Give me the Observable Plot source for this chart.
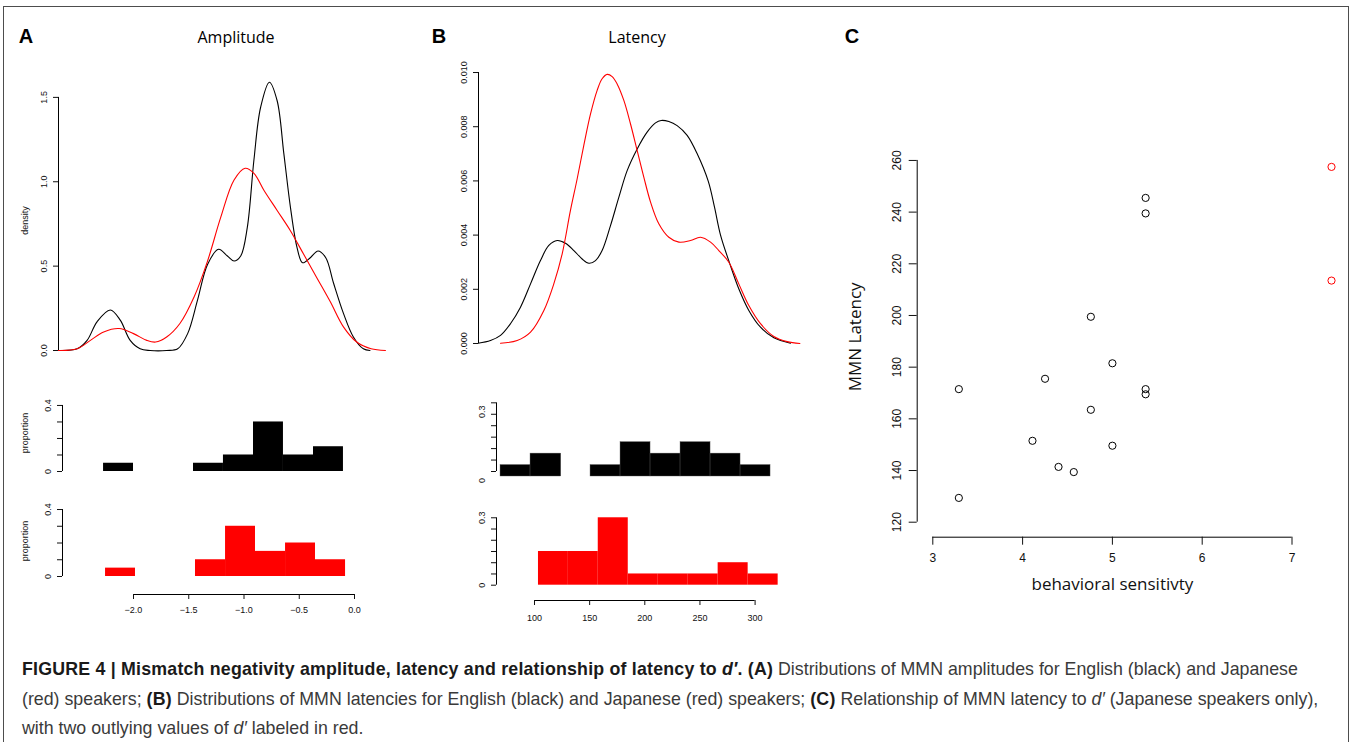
<!DOCTYPE html>
<html><head><meta charset="utf-8">
<script src="https://cdn.jsdelivr.net/npm/d3@7"></script>
<script src="https://cdn.jsdelivr.net/npm/@observablehq/plot@0.6"></script>
<style>
body{margin:0;background:#fff;}
#fig{position:relative;width:1353px;height:742px;overflow:hidden;font-family:"Liberation Sans",Arial,sans-serif;background:#fff;}
#border{position:absolute;left:3px;top:6px;width:1346px;height:800px;border:1.5px solid #4d4d4d;box-sizing:border-box;}
.lbl{position:absolute;transform:translate(-50%,-50%);white-space:nowrap;}
.letter{font-weight:bold;font-size:20px;font-family:"Liberation Sans",Arial,sans-serif;}
.title{font-family:"Open Sans",sans-serif;font-size:16px;}
.cap{position:absolute;left:22px;font-size:17.8px;line-height:20px;color:#3a3a3a;white-space:nowrap;}
.cap b{color:#1a1a1a;letter-spacing:0.2px;}
</style></head>
<body><div id="fig"><div id="border"></div></div>
<script>
// ---------- DATA ----------
// Panel A: MMN amplitude densities [amplitude, density]
const ampDensEnglish = [[-2.68,0],[-2.51,0.01],[-2.42,0.06],[-2.33,0.17],[-2.21,0.24],[-2.12,0.18],[-2.03,0.06],[-1.94,0.01],[-1.85,0],[-1.70,0],[-1.60,0.01],[-1.51,0.10],[-1.42,0.30],[-1.33,0.51],[-1.23,0.60],[-1.15,0.56],[-1.09,0.53],[-1.03,0.56],[-0.97,0.73],[-0.91,1.13],[-0.85,1.44],[-0.77,1.59],[-0.70,1.48],[-0.64,1.17],[-0.58,0.85],[-0.52,0.61],[-0.47,0.52],[-0.40,0.55],[-0.33,0.59],[-0.26,0.55],[-0.19,0.40],[-0.10,0.22],[-0.01,0.08],[0.08,0.01],[0.14,0]];
const ampDensJapanese = [[-2.68,0],[-2.51,0.01],[-2.39,0.06],[-2.27,0.11],[-2.13,0.13],[-2.00,0.10],[-1.88,0.06],[-1.80,0.05],[-1.70,0.08],[-1.58,0.16],[-1.45,0.32],[-1.33,0.53],[-1.21,0.79],[-1.09,1.01],[-0.99,1.08],[-0.91,1.05],[-0.82,0.95],[-0.70,0.83],[-0.58,0.71],[-0.46,0.57],[-0.34,0.43],[-0.22,0.29],[-0.10,0.14],[0.02,0.05],[0.15,0.01],[0.28,0]];
// Panel A histograms: bin start, bin end, proportion
const ampBinStartEn = [-2.271,-1.457,-1.186,-0.914,-0.643,-0.371];
const ampBinEndEn   = [-2.000,-1.186,-0.914,-0.643,-0.371,-0.100];
const ampPropEn     = [0.05,0.05,0.10,0.30,0.10,0.15];
const ampBinStartJa = [-2.253,-1.439,-1.167,-0.896,-0.624,-0.353];
const ampBinEndJa   = [-1.982,-1.167,-0.896,-0.624,-0.353,-0.081];
const ampPropJa     = [0.05,0.10,0.30,0.15,0.20,0.10];
const ampDensTicks = [0,0.5,1,1.5];
const ampHistTicks = [0,0.1,0.2,0.3,0.4];
const ampAxisTicks = [-2,-1.5,-1,-0.5,0];

// Panel B: MMN latency densities [latency, density x 1000]
const latDensEnglish = [[48.9,0.01],[60.1,0.11],[69.2,0.30],[78.2,0.73],[87.3,1.34],[96.4,2.20],[105.4,3.06],[113.0,3.62],[120.6,3.80],[128.1,3.70],[135.7,3.43],[143.2,3.12],[149.3,2.96],[155.3,3.06],[161.3,3.43],[168.9,4.35],[176.5,5.40],[184.0,6.38],[193.1,7.18],[202.1,7.80],[209.7,8.14],[214.8,8.23],[221.8,8.19],[229.3,8.04],[238.4,7.68],[247.5,7.00],[257.5,5.99],[263.2,5.03],[268.6,4.01],[277.1,2.94],[285.2,2.02],[294.3,1.22],[304.9,0.60],[317.0,0.21],[332.1,0.01]];
const latDensJapanese = [[69.2,0.01],[84.3,0.11],[96.4,0.42],[108.5,1.22],[117.5,2.20],[125.1,3.31],[132.6,4.91],[138.7,6.08],[144.7,7.31],[150.8,8.47],[156.8,9.34],[161.3,9.77],[165.9,9.93],[170.4,9.85],[174.9,9.58],[181.0,8.97],[187.0,8.11],[193.1,7.12],[199.1,6.14],[205.2,5.22],[212.7,4.42],[221.8,3.92],[230.9,3.74],[241.4,3.80],[250.5,3.92],[259.6,3.74],[267.1,3.43],[276.2,3.00],[285.2,2.20],[294.3,1.40],[304.9,0.73],[317.0,0.26],[329.1,0.07],[340.6,0.00]];
const latBinStartEn = [69.2,96.4,150.8,178.0,205.2,232.4,259.6,286.8];
const latBinEndEn   = [96.4,124.2,178.0,205.2,232.4,259.6,286.8,314.0];
const latPropEn     = [0.05,0.10,0.05,0.15,0.10,0.15,0.10,0.05];
const latBinStartJa = [103.6,130.7,157.8,185.0,212.2,239.4,266.5,293.7];
const latBinEndJa   = [130.7,157.8,185.0,212.2,239.4,266.5,293.7,320.9];
const latPropJa     = [0.15,0.15,0.30,0.05,0.05,0.05,0.10,0.05];
const latDensTicks = [0,0.002,0.004,0.006,0.008,0.010];
const latHistTicks = [0,0.05,0.10,0.15,0.20,0.25,0.30];
const latAxisTicks = [100,150,200,250,300];

// Panel C: behavioral sensitivity (d') vs MMN latency, Japanese speakers
const sensitivity = [3.29,3.29,4.11,4.25,4.40,4.57,4.76,4.76,5.00,5.00,5.37,5.37,5.37,5.37];
const latency     = [171.5,129.4,151.5,175.5,141.4,139.4,199.5,163.5,181.5,149.6,245.5,239.5,171.5,169.5];
const outlierSensitivity = [7.44,7.44];
const outlierLatency     = [257.5,213.5];
const scatterXTicks = [3,4,5,6,7];
const scatterYTicks = [120,140,160,180,200,220,240,260];

// ---------- helpers ----------
const fig = document.getElementById("fig");
function place(el, left, top){ el.style.position="absolute"; el.style.left=left+"px"; el.style.top=top+"px"; fig.appendChild(el); }
function label(text, cls, cx, cy){ const d=document.createElement("div"); d.className="lbl "+cls; d.textContent=text; d.style.left=cx+"px"; d.style.top=cy+"px"; fig.appendChild(d); return d; }
const bins = (s,e,p) => s.map((v,i)=>({x1:v,x2:e[i],p:p[i]}));
const baseStyle = {background:"transparent", fontFamily:"Liberation Sans, Arial, sans-serif", fontSize:"9px", color:"#111", overflow:"visible"};
const f1 = d3.format(".1f"), f3 = d3.format(".3f");
const histFmt = (ends) => d => (d===ends[0]||d===ends[1]) ? String(d) : "";

// panel A horizontal scale (page px of value 0, px per unit)
const aVal = px => (px - 354)/110.5;
// panel B horizontal scale
const bVal = px => 100 + (px - 534)/1.103;

// ---------- Panel A ----------
place(Plot.plot({
  width:400, height:300, marginLeft:58, marginRight:15, marginTop:20, marginBottom:10,
  style:baseStyle,
  x:{domain:[aVal(58), aVal(385)], axis:null},
  y:{domain:[0,1.6]},
  marks:[
    Plot.ruleX([aVal(58)], {y1:0, y2:1.5, stroke:"#000"}),
    Plot.axisY({ticks:ampDensTicks, tickFormat:f1, tickSize:5, tickPadding:7, tickRotate:-90, label:null}),
    Plot.text(["density"], {frameAnchor:"left", textAnchor:"middle", dx:-33, dy:5, rotate:-90, fontSize:9}),
    Plot.line(ampDensEnglish, {x:d=>d[0], y:d=>d[1], stroke:"#000", strokeWidth:1.1, curve:"catmull-rom"}),
    Plot.line(ampDensJapanese, {x:d=>d[0], y:d=>d[1], stroke:"#ff0000", strokeWidth:1.1, curve:"catmull-rom"})
  ]
}), 0, 60);

place(Plot.plot({
  width:400, height:80, marginLeft:62, marginRight:15, marginTop:5, marginBottom:4,
  style:baseStyle,
  x:{domain:[aVal(62), aVal(385)], axis:null},
  y:{domain:[0,0.43]},
  marks:[
    Plot.rectY(bins(ampBinStartEn, ampBinEndEn, ampPropEn), {x1:"x1", x2:"x2", y:"p", fill:"#000"}),
    Plot.ruleX([aVal(62)], {y1:0, y2:0.4, stroke:"#000"}),
    Plot.axisY({ticks:ampHistTicks, tickFormat:histFmt([0,0.4]), tickSize:5, tickPadding:7, tickRotate:-90, label:null}),
    Plot.text(["proportion"], {frameAnchor:"left", textAnchor:"middle", dx:-37, dy:-3, rotate:-90, fontSize:9})
  ]
}), 0, 395);

place(Plot.plot({
  width:400, height:80, marginLeft:62, marginRight:15, marginTop:5, marginBottom:4,
  style:baseStyle,
  x:{domain:[aVal(62), aVal(385)], axis:null},
  y:{domain:[0,0.424]},
  marks:[
    Plot.rectY(bins(ampBinStartJa, ampBinEndJa, ampPropJa), {x1:"x1", x2:"x2", y:"p", fill:"#ff0000"}),
    Plot.ruleX([aVal(62)], {y1:0, y2:0.4, stroke:"#000"}),
    Plot.axisY({ticks:ampHistTicks, tickFormat:histFmt([0,0.4]), tickSize:5, tickPadding:7, tickRotate:-90, label:null}),
    Plot.text(["proportion"], {frameAnchor:"left", textAnchor:"middle", dx:-37, rotate:-90, fontSize:9})
  ]
}), 0, 500);

place(Plot.plot({
  width:400, height:40, marginLeft:62, marginRight:15, marginTop:0, marginBottom:31,
  style:baseStyle,
  x:{domain:[aVal(62), aVal(385)]},
  y:{domain:[0,1], axis:null},
  marks:[
    Plot.ruleY([0], {x1:ampAxisTicks[0], x2:ampAxisTicks[ampAxisTicks.length-1], stroke:"#000"}),
    Plot.axisX({ticks:ampAxisTicks, tickFormat:f1, tickSize:5, tickPadding:7.5, label:null})
  ]
}), 0, 585);

// ---------- Panel B ----------
place(Plot.plot({
  width:400, height:300, marginLeft:68, marginRight:10, marginTop:16.6, marginBottom:7,
  style:baseStyle,
  x:{domain:[bVal(478), bVal(800)], axis:null},
  y:{domain:[0,0.0102]},
  marks:[
    Plot.ruleX([bVal(478)], {y1:0, y2:0.010, stroke:"#000"}),
    Plot.axisY({ticks:latDensTicks, tickFormat:f3, tickSize:5, tickPadding:7, tickRotate:-90, label:null}),
    Plot.line(latDensEnglish, {x:d=>d[0], y:d=>d[1]/1000, stroke:"#000", strokeWidth:1.1, curve:"catmull-rom"}),
    Plot.line(latDensJapanese, {x:d=>d[0], y:d=>d[1]/1000, stroke:"#ff0000", strokeWidth:1.1, curve:"catmull-rom"})
  ]
}), 410, 50);

place(Plot.plot({
  width:400, height:85, marginLeft:86, marginRight:10, marginTop:5, marginBottom:4,
  style:baseStyle,
  x:{domain:[bVal(496), bVal(800)], axis:null},
  y:{domain:[0,0.332]},
  marks:[
    Plot.rectY(bins(latBinStartEn, latBinEndEn, latPropEn), {x1:"x1", x2:"x2", y:"p", fill:"#000", stroke:"#555", strokeWidth:0.4}),
    Plot.ruleX([bVal(496)], {y1:0, y2:0.3, dy:-5, stroke:"#000"}),
    Plot.axisY({ticks:latHistTicks, tickFormat:()=>"", tickSize:5, dy:-5, label:null}),
    Plot.axisY({ticks:[0,0.3], tickFormat:d=>String(d), tickSize:0, tickPadding:12, tickRotate:-90, dy:4, label:null})
  ]
}), 410, 395);

place(Plot.plot({
  width:400, height:85, marginLeft:86, marginRight:10, marginTop:5, marginBottom:5.3,
  style:baseStyle,
  x:{domain:[bVal(496), bVal(800)], axis:null},
  y:{domain:[0,0.3324]},
  marks:[
    Plot.rectY(bins(latBinStartJa, latBinEndJa, latPropJa), {x1:"x1", x2:"x2", y:"p", fill:"#ff0000"}),
    Plot.ruleX([bVal(496)], {y1:0, y2:0.3, stroke:"#000"}),
    Plot.axisY({ticks:latHistTicks, tickFormat:histFmt([0,0.3]), tickSize:5, tickPadding:7, tickRotate:-90, label:null})
  ]
}), 410, 505);

place(Plot.plot({
  width:400, height:40, marginLeft:86, marginRight:10, marginTop:0, marginBottom:30,
  style:baseStyle,
  x:{domain:[bVal(496), bVal(800)]},
  y:{domain:[0,1], axis:null},
  marks:[
    Plot.ruleY([0], {x1:latAxisTicks[0], x2:latAxisTicks[latAxisTicks.length-1], stroke:"#000"}),
    Plot.axisX({ticks:latAxisTicks, tickFormat:d=>String(d), tickSize:5, tickPadding:9.5, label:null})
  ]
}), 410, 590);

// ---------- Panel C ----------
const cxVal = px => 3 + (px - 932.3)/89.8;
const cyVal = py => 120 + (521.7 - py)/2.584;
place(Plot.plot({
  width:513, height:490, marginLeft:76.7, marginRight:8, marginTop:10, marginBottom:83.3,
  style:{...baseStyle, fontSize:"12px"},
  x:{domain:[cxVal(916.7), cxVal(1345)]},
  y:{domain:[cyVal(536.7), cyVal(140)]},
  marks:[
    Plot.ruleX([cxVal(916.7)], {y1:scatterYTicks[0], y2:scatterYTicks[scatterYTicks.length-1], stroke:"#000"}),
    Plot.ruleY([cyVal(536.7)], {x1:scatterXTicks[0], x2:scatterXTicks[scatterXTicks.length-1], stroke:"#000"}),
    Plot.axisY({ticks:scatterYTicks, tickFormat:d=>String(d), tickSize:8, tickPadding:8, tickRotate:-90, label:null}),
    Plot.axisX({ticks:scatterXTicks, tickFormat:d=>String(d), tickSize:8, tickPadding:8, label:null}),
    Plot.dot(sensitivity.map((s,i)=>({s, l:latency[i]})), {x:"s", y:"l", r:3.6, stroke:"#000", strokeWidth:1, fill:"none"}),
    Plot.dot(outlierSensitivity.map((s,i)=>({s, l:outlierLatency[i]})), {x:"s", y:"l", r:3.6, stroke:"#ff0000", strokeWidth:1, fill:"none"}),
    Plot.text(["behavioral sensitivty"], {x:5, frameAnchor:"bottom", dy:53, fontSize:17, fontFamily:"Open Sans, sans-serif", fill:"#111"}),
    Plot.text(["MMN Latency"], {frameAnchor:"left", textAnchor:"middle", dx:-62, dy:-2, rotate:-90, fontSize:17, fontFamily:"Open Sans, sans-serif", fill:"#111"})
  ]
}), 840, 130);

// ---------- panel letters and titles ----------
label("A","letter",26,36);
label("B","letter",439,36);
label("C","letter",852,36);
label("Amplitude","title",236,37);
label("Latency","title",637,37);

// ---------- caption ----------
const capLines = [
  '<b>FIGURE 4 | Mismatch negativity amplitude, latency and relationship of latency to <i>d′</i>. (A)</b> Distributions of MMN amplitudes for English (black) and Japanese',
  '(red) speakers; <b>(B)</b> Distributions of MMN latencies for English (black) and Japanese (red) speakers; <b>(C)</b> Relationship of MMN latency to <i>d′</i> (Japanese speakers only),',
  'with two outlying values of <i>d′</i> labeled in red.'
];
const capTops = [659, 689, 718];
capLines.forEach((h,i)=>{ const d=document.createElement("div"); d.className="cap"; d.innerHTML=h; d.style.top=capTops[i]+"px"; fig.appendChild(d); });
</script>
</body></html>
